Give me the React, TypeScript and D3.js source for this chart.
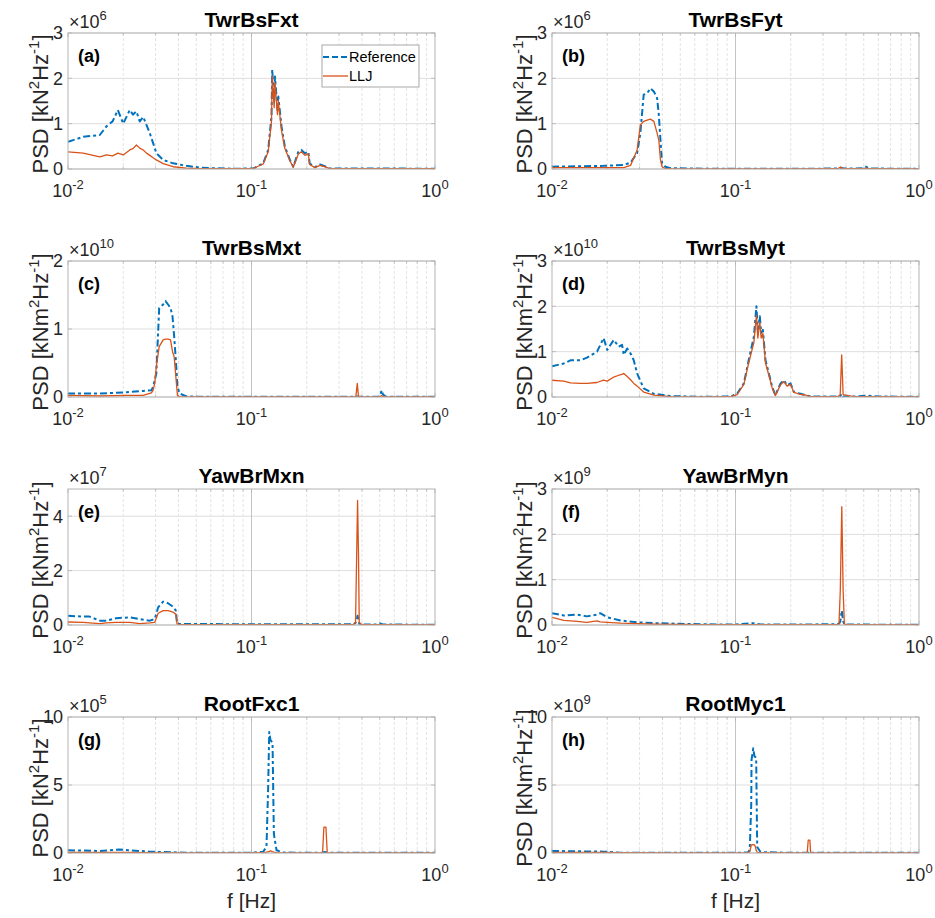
import * as d3 from 'd3';

// frequency [Hz] and PSD values, each panel in units of its own 10^n factor
const freqA = [0.010, 0.0121, 0.0149, 0.0162, 0.0175, 0.0187, 0.0200, 0.0217, 0.0226, 0.0236, 0.0246, 0.0257, 0.0268, 0.0279, 0.0291, 0.0303, 0.0330, 0.0374, 0.0442, 0.0523, 0.0644, 0.0794, 0.102, 0.1158, 0.1233, 0.1285, 0.1297, 0.1329, 0.1343, 0.1386, 0.140, 0.1457, 0.152, 0.162, 0.169, 0.180, 0.187, 0.1955, 0.204, 0.2075, 0.2215, 0.236, 0.251, 0.267, 0.40, 0.60, 1.0];
const refA = [0.60, 0.71, 0.75, 0.94, 1.05, 1.30, 1.00, 1.30, 1.20, 1.27, 1.05, 1.15, 0.97, 0.79, 0.57, 0.35, 0.20, 0.125, 0.07, 0.03, 0.015, 0.007, 0.01, 0.125, 0.42, 1.16, 2.19, 1.5, 2.04, 1.3, 1.6, 0.94, 0.49, 0.2, 0.05, 0.38, 0.42, 0.35, 0.38, 0.125, 0.04, 0.10, 0.06, 0.01, 0.01, 0.01, 0.005];
const lljA = [0.38, 0.35, 0.27, 0.31, 0.29, 0.35, 0.31, 0.42, 0.45, 0.53, 0.46, 0.42, 0.35, 0.30, 0.25, 0.20, 0.12, 0.05, 0.02, 0.01, 0.005, 0.005, 0.01, 0.11, 0.38, 1.05, 2.05, 1.35, 1.9, 1.2, 1.5, 0.85, 0.45, 0.18, 0.04, 0.33, 0.38, 0.3, 0.34, 0.1, 0.03, 0.08, 0.05, 0.01, 0.01, 0.01, 0.005];

const freqB = [0.010, 0.0191, 0.0246, 0.0268, 0.0291, 0.0303, 0.0316, 0.0330, 0.0344, 0.0359, 0.0374, 0.0382, 0.0390, 0.0398, 0.0415, 0.0442, 0.0672, 0.20, 0.36, 0.374, 0.39, 0.49, 0.512, 0.535, 1.0];
const refB = [0.05, 0.07, 0.09, 0.14, 0.35, 0.79, 1.64, 1.67, 1.78, 1.71, 1.56, 1.19, 0.64, 0.125, 0.05, 0.02, 0.005, 0.005, 0.01, 0.03, 0.01, 0.015, 0.05, 0.01, 0.005];
const lljB = [0.03, 0.03, 0.03, 0.08, 0.42, 0.97, 1.05, 1.08, 1.1, 1.05, 0.79, 0.64, 0.2, 0.05, 0.01, 0.005, 0.003, 0.003, 0.005, 0.04, 0.005, 0.005, 0.02, 0.005, 0.003];

const freqC = [0.010, 0.0149, 0.0208, 0.0257, 0.0285, 0.0291, 0.0297, 0.0303, 0.0314, 0.0330, 0.0340, 0.0351, 0.0362, 0.0371, 0.0379, 0.0387, 0.0395, 0.0406, 0.0442, 0.0523, 0.20, 0.365, 0.371, 0.377, 0.383, 0.49, 0.505, 0.512, 0.52, 0.54, 1.0];
const refC = [0.05, 0.05, 0.07, 0.09, 0.10, 0.15, 0.25, 0.35, 1.31, 1.36, 1.41, 1.36, 1.31, 1.19, 0.89, 0.54, 0.15, 0.05, 0.01, 0.003, 0.003, 0.003, 0.005, 0.008, 0.005, 0.005, 0.04, 0.10, 0.04, 0.005, 0.003];
const lljC = [0.025, 0.015, 0.025, 0.025, 0.06, 0.1, 0.2, 0.45, 0.74, 0.84, 0.85, 0.85, 0.84, 0.67, 0.59, 0.3, 0.02, 0.005, 0.003, 0.002, 0.002, 0.003, 0.02, 0.2, 0.005, 0.003, 0.01, 0.02, 0.01, 0.003, 0.002];

const freqD = [0.010, 0.0116, 0.0126, 0.0143, 0.0155, 0.0176, 0.0191, 0.0200, 0.0217, 0.0231, 0.0241, 0.0246, 0.0257, 0.0268, 0.0279, 0.0291, 0.0316, 0.0359, 0.0442, 0.0672, 0.0939, 0.102, 0.111, 0.118, 0.1259, 0.130, 0.1323, 0.1357, 0.138, 0.141, 0.1457, 0.152, 0.1585, 0.165, 0.176, 0.1835, 0.191, 0.1995, 0.208, 0.226, 0.236, 0.2566, 0.36, 0.372, 0.379, 0.386, 0.45, 0.523, 0.6, 1.0];
const refD = [0.68, 0.74, 0.81, 0.81, 0.87, 1.0, 1.3, 1.04, 1.26, 1.11, 1.15, 0.93, 1.07, 0.96, 0.81, 0.52, 0.19, 0.07, 0.02, 0.005, 0.01, 0.07, 0.3, 0.81, 1.33, 2.0, 1.48, 1.78, 1.41, 1.48, 0.81, 0.52, 0.22, 0.04, 0.3, 0.37, 0.26, 0.3, 0.11, 0.07, 0.05, 0.01, 0.01, 0.02, 0.07, 0.01, 0.01, 0.03, 0.01, 0.005];
const lljD = [0.37, 0.35, 0.31, 0.30, 0.30, 0.32, 0.37, 0.35, 0.44, 0.48, 0.50, 0.52, 0.45, 0.38, 0.30, 0.24, 0.11, 0.04, 0.01, 0.003, 0.005, 0.05, 0.28, 0.75, 1.2, 1.8, 1.3, 1.65, 1.3, 1.4, 0.75, 0.48, 0.2, 0.03, 0.27, 0.34, 0.24, 0.28, 0.1, 0.06, 0.05, 0.01, 0.005, 0.05, 0.93, 0.05, 0.005, 0.01, 0.005, 0.003];

const freqE = [0.010, 0.0121, 0.0131, 0.0149, 0.0162, 0.0183, 0.0217, 0.0246, 0.0279, 0.0297, 0.0310, 0.0330, 0.0351, 0.0374, 0.0387, 0.0393, 0.0406, 0.0794, 0.3585, 0.369, 0.374, 0.3785, 0.383, 0.3865, 0.398, 0.48, 0.501, 0.52, 1.0];
const refE = [0.34, 0.31, 0.31, 0.16, 0.16, 0.25, 0.28, 0.22, 0.16, 0.22, 0.65, 0.86, 0.80, 0.67, 0.53, 0.06, 0.04, 0.03, 0.03, 0.08, 0.16, 0.34, 0.16, 0.05, 0.02, 0.02, 0.06, 0.02, 0.005];
const lljE = [0.11, 0.10, 0.08, 0.05, 0.08, 0.1, 0.1, 0.05, 0.08, 0.1, 0.43, 0.53, 0.53, 0.47, 0.40, 0.04, 0.02, 0.01, 0.01, 0.1, 2.5, 4.58, 2.5, 0.1, 0.01, 0.01, 0.01, 0.01, 0.003];

const freqF = [0.010, 0.0116, 0.0137, 0.0155, 0.0176, 0.0183, 0.0200, 0.0236, 0.0291, 0.0359, 0.0672, 0.100, 0.1259, 0.137, 0.236, 0.3585, 0.3664, 0.3725, 0.3795, 0.386, 0.392, 0.40, 1.0];
const refF = [0.26, 0.21, 0.23, 0.19, 0.23, 0.26, 0.17, 0.10, 0.06, 0.04, 0.015, 0.01, 0.04, 0.01, 0.01, 0.02, 0.03, 0.08, 0.32, 0.08, 0.02, 0.01, 0.005];
const lljF = [0.17, 0.10, 0.08, 0.06, 0.09, 0.07, 0.06, 0.04, 0.03, 0.02, 0.01, 0.005, 0.01, 0.005, 0.005, 0.005, 0.02, 0.76, 2.61, 0.76, 0.02, 0.005, 0.003];

const freqG = [0.010, 0.0149, 0.0191, 0.0217, 0.0279, 0.0442, 0.1, 0.1158, 0.1207, 0.1233, 0.1249, 0.1269, 0.1302, 0.1324, 0.1369, 0.1489, 0.2439, 0.248, 0.251, 0.2544, 0.2587, 0.4, 1.0];
const refG = [0.2, 0.15, 0.25, 0.2, 0.1, 0.02, 0.02, 0.1, 0.44, 4.9, 8.9, 8.3, 8.1, 1.4, 0.2, 0.03, 0.02, 0.05, 0.07, 0.05, 0.02, 0.02, 0.02];
const lljG = [0.05, 0.04, 0.05, 0.04, 0.02, 0.01, 0.02, 0.05, 0.07, 0.1, 0.12, 0.15, 0.1, 0.07, 0.03, 0.01, 0.01, 1.9, 1.9, 1.9, 0.01, 0.01, 0.01];

const freqH = [0.010, 0.0191, 0.0236, 0.05, 0.1, 0.1158, 0.1182, 0.1197, 0.1218, 0.1223, 0.1249, 0.1269, 0.1285, 0.1296, 0.1313, 0.1369, 0.2, 0.246, 0.249, 0.2513, 0.2544, 0.2564, 1.0];
const refH = [0.15, 0.1, 0.02, 0.01, 0.01, 0.04, 0.08, 0.44, 3.5, 6.85, 7.7, 7.1, 7.05, 7.0, 0.44, 0.07, 0.01, 0.01, 0.04, 0.1, 0.04, 0.01, 0.01];
const lljH = [0.05, 0.04, 0.02, 0.01, 0.01, 0.03, 0.05, 0.1, 0.57, 0.6, 0.62, 0.6, 0.44, 0.2, 0.05, 0.02, 0.01, 0.01, 0.94, 0.94, 0.94, 0.01, 0.01];

const panelTitles = ['TwrBsFxt', 'TwrBsFyt', 'TwrBsMxt', 'TwrBsMyt', 'YawBrMxn', 'YawBrMyn', 'RootFxc1', 'RootMyc1'];
const panelLetters = ['(a)', '(b)', '(c)', '(d)', '(e)', '(f)', '(g)', '(h)'];
const panelUnits = ['kN', 'kN', 'kNm', 'kNm', 'kNm', 'kNm', 'kN', 'kNm'];
const panelExponents = ['6', '6', '10', '10', '7', '9', '5', '9'];
const panelYMax = [3, 3, 2, 3, 5, 3, 10, 10];
const panelYTicks = [[0, 1, 2, 3], [0, 1, 2, 3], [0, 1, 2], [0, 1, 2, 3], [0, 2, 4], [0, 1, 2, 3], [0, 5, 10], [0, 5, 10]];
const panelFreqs = [freqA, freqB, freqC, freqD, freqE, freqF, freqG, freqH];
const panelRef = [refA, refB, refC, refD, refE, refF, refG, refH];
const panelLlj = [lljA, lljB, lljC, lljD, lljE, lljF, lljG, lljH];
const seriesNames = ['Reference', 'LLJ'];
const xMajorTicks = [0.01, 0.1, 1];
const xTickExps = ['-2', '-1', '0'];

const W = 935;
const H = 918;
const colLeft = [68, 552];
const axW = 367;
const rowTop = [33, 261, 489, 717];
const axH = 136;
const blue = '#0072BD';
const orange = '#D95319';
const txt = '#262626';
const boxColor = '#b3b3b3';
const font = '"Liberation Sans", Arial, Helvetica, sans-serif';

const minorTicks: number[] = [];
[0.01, 0.1].forEach((d) => {
  for (let m = 2; m <= 9; m++) minorTicks.push(d * m);
});

function Panel({ idx }: { idx: number }) {
  const left = colLeft[idx % 2];
  const top = rowTop[Math.floor(idx / 2)];
  const x = d3.scaleLog().domain([0.01, 1]).range([left, left + axW]);
  const y = d3.scaleLinear().domain([0, panelYMax[idx]]).range([top + axH, top]);
  const freq = panelFreqs[idx];
  const line = d3
    .line<number>()
    .x((_, k) => x(freq[k]))
    .y((d) => y(d));
  const bottom = top + axH;
  const cx = left + axW / 2;
  const clipId = `clip${idx}`;

  return (
    <g>
      <defs>
        <clipPath id={clipId}>
          <rect x={left} y={top} width={axW} height={axH} />
        </clipPath>
      </defs>
      <rect x={left} y={top} width={axW} height={axH} fill="#fff" />
      {/* grid */}
      {minorTicks.map((t) => (
        <line key={'m' + t} x1={x(t)} x2={x(t)} y1={top} y2={bottom} stroke="#dcdcdc" strokeWidth={0.8} strokeDasharray="3,2" />
      ))}
      {panelYTicks[idx].map((t) => (
        <line key={'h' + t} x1={left} x2={left + axW} y1={y(t)} y2={y(t)} stroke="#dedede" strokeWidth={1} />
      ))}
      <line x1={x(0.1)} x2={x(0.1)} y1={top} y2={bottom} stroke="#c4c4c4" strokeWidth={1} />
      {/* ticks */}
      {minorTicks.map((t) => (
        <g key={'mt' + t} stroke={boxColor} strokeWidth={0.8}>
          <line x1={x(t)} x2={x(t)} y1={bottom} y2={bottom - 2.5} />
          <line x1={x(t)} x2={x(t)} y1={top} y2={top + 2.5} />
        </g>
      ))}
      {xMajorTicks.map((t) => (
        <g key={'xt' + t} stroke={boxColor} strokeWidth={0.8}>
          <line x1={x(t)} x2={x(t)} y1={bottom} y2={bottom - 4} />
          <line x1={x(t)} x2={x(t)} y1={top} y2={top + 4} />
        </g>
      ))}
      {panelYTicks[idx].map((t) => (
        <g key={'yt' + t} stroke={boxColor} strokeWidth={0.8}>
          <line x1={left} x2={left + 4} y1={y(t)} y2={y(t)} />
          <line x1={left + axW} x2={left + axW - 4} y1={y(t)} y2={y(t)} />
        </g>
      ))}
      {/* series */}
      <g clipPath={`url(#${clipId})`}>
        <path d={line(panelRef[idx]) || ''} fill="none" stroke={blue} strokeWidth={2} strokeDasharray="7,3,3,3" strokeLinejoin="round" />
        <path d={line(panelLlj[idx]) || ''} fill="none" stroke={orange} strokeWidth={1.3} strokeLinejoin="round" />
      </g>
      <rect x={left} y={top} width={axW} height={axH} fill="none" stroke={boxColor} strokeWidth={1} />
      {/* tick labels */}
      {panelYTicks[idx].map((t) => (
        <text key={'yl' + t} x={left - 5} y={y(t)} dy="0.36em" textAnchor="end" fontSize={18} fill={txt}>
          {t}
        </text>
      ))}
      {xMajorTicks.map((t, k) => (
        <text key={'xl' + t} x={x(t)} y={bottom + 28} textAnchor="middle" fontSize={18} fill={txt}>
          10
          <tspan dy={-8} fontSize={13}>
            {xTickExps[k]}
          </tspan>
        </text>
      ))}
      {/* exponent factor */}
      <text x={left + 1} y={top - 5} fontSize={18} fill={txt}>
        {'\u00d7'}10
        <tspan dy={-8} fontSize={13}>
          {panelExponents[idx]}
        </tspan>
      </text>
      {/* title */}
      <text x={cx} y={top - 6} textAnchor="middle" fontSize={21} fontWeight="bold" fill="#000">
        {panelTitles[idx]}
      </text>
      {/* panel letter */}
      <text x={left + 10} y={top + 29} fontSize={18} fontWeight="bold" fill="#000">
        {panelLetters[idx]}
      </text>
      {/* y label */}
      <text
        transform={`translate(${left - 20},${top + axH / 2 + 3}) rotate(-90)`}
        textAnchor="middle"
        fontSize={22}
        fill={txt}
      >
        PSD [{panelUnits[idx]}
        <tspan dy={-9} fontSize={15}>
          2
        </tspan>
        <tspan dy={9}>Hz</tspan>
        <tspan dy={-9} fontSize={15}>
          -1
        </tspan>
        <tspan dy={9}>]</tspan>
      </text>
      {idx >= 6 && (
        <text x={cx} y={bottom + 55} textAnchor="middle" fontSize={21} fill={txt}>
          f [Hz]
        </text>
      )}
      {idx === 0 && (
        <g>
          <rect x={left + 254} y={top + 12} width={97} height={42} fill="#fff" stroke="#a8a8a8" strokeWidth={1} />
          <line x1={left + 255} x2={left + 280} y1={top + 24} y2={top + 24} stroke={blue} strokeWidth={2} strokeDasharray="6,3" />
          <text x={left + 281} y={top + 24} dy="0.36em" fontSize={14.5} fill="#000">
            {seriesNames[0]}
          </text>
          <line x1={left + 255} x2={left + 280} y1={top + 43} y2={top + 43} stroke={orange} strokeWidth={1.3} />
          <text x={left + 281} y={top + 43} dy="0.36em" fontSize={14.5} fill="#000">
            {seriesNames[1]}
          </text>
        </g>
      )}
    </g>
  );
}

export default function App() {
  return (
    <svg
      width={W}
      height={H}
      style={{ position: 'absolute', left: 0, top: 0, background: '#fff' }}
      fontFamily={font}
    >
      <rect width={W} height={H} fill="#fff" />
      {panelTitles.map((_, i) => (
        <Panel key={i} idx={i} />
      ))}
    </svg>
  );
}
